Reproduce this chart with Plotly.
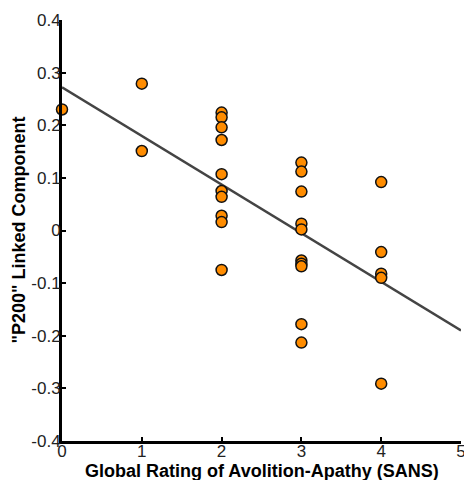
import plotly.graph_objects as go

# Data
sans_rating = [0, 1, 1,
               2, 2, 2, 2, 2, 2, 2, 2, 2, 2,
               3, 3, 3, 3, 3, 3, 3, 3, 3, 3,
               4, 4, 4, 4, 4]
p200_component = [0.230, 0.279, 0.151,
                  0.224, 0.215, 0.196, 0.172, 0.107, 0.075, 0.064, 0.028, 0.016, -0.075,
                  0.129, 0.112, 0.074, 0.013, 0.002, -0.057, -0.063, -0.068, -0.178, -0.213,
                  0.092, -0.041, -0.082, -0.090, -0.291]

fit_x = [0, 5]
fit_y = [0.272, -0.190]

x_ticks = [0, 1, 2, 3, 4, 5]
y_ticks = [-0.4, -0.3, -0.2, -0.1, 0, 0.1, 0.2, 0.3, 0.4]
y_tick_text = ["-0.4", "-0.3", "-0.2", "-0.1", "0", "0.1", "0.2", "0.3", "0.4"]

x_title = "Global Rating of Avolition-Apathy (SANS)"
y_title = "\"P200\" Linked Component"

fig = go.Figure()
fig.add_trace(go.Scatter(
    x=fit_x, y=fit_y, mode="lines",
    line=dict(color="#444444", width=2.5),
    showlegend=False, hoverinfo="skip", cliponaxis=False,
))
fig.add_trace(go.Scatter(
    x=sans_rating, y=p200_component, mode="markers",
    marker=dict(color="#FF8C00", size=11, line=dict(color="#111111", width=1.5)),
    showlegend=False, cliponaxis=False,
))

font_family = "Liberation Sans, Arial, sans-serif"
fig.update_layout(
    width=464, height=480,
    margin=dict(l=62, r=3, t=20, b=39, autoexpand=False),
    paper_bgcolor="white", plot_bgcolor="white",
    font=dict(family=font_family, size=17, color="#222222"),
    xaxis=dict(
        range=[0, 5], tickvals=x_ticks, ticktext=[str(v) for v in x_ticks],
        showgrid=False, zeroline=False, automargin=False,
        showline=True, linecolor="black", linewidth=3,
        ticks="inside", ticklen=4, tickwidth=2, tickcolor="black",
        ticklabelstandoff=-7, ticklabeloverflow="allow",
    ),
    yaxis=dict(
        range=[-0.4, 0.4], tickvals=y_ticks, ticktext=y_tick_text,
        showgrid=False, zeroline=False, automargin=False,
        showline=True, linecolor="black", linewidth=3,
        ticks="inside", ticklen=4, tickwidth=2, tickcolor="black",
        ticklabelstandoff=-5, ticklabeloverflow="allow",
    ),
    annotations=[
        dict(text="<b>" + x_title + "</b>", xref="paper", yref="paper",
             x=0.5, y=-0.071, xanchor="center", yanchor="middle", showarrow=False,
             font=dict(size=18, color="black")),
        dict(text="<b>" + y_title + "</b>", xref="paper", yref="paper",
             x=-0.11, y=0.5, xanchor="center", yanchor="middle", showarrow=False,
             textangle=-90, font=dict(size=18, color="black")),
    ],
)

fig.write_html("out.html", config={"displayModeBar": False},
               post_script="document.body.style.margin='0';document.body.style.padding='0';")
